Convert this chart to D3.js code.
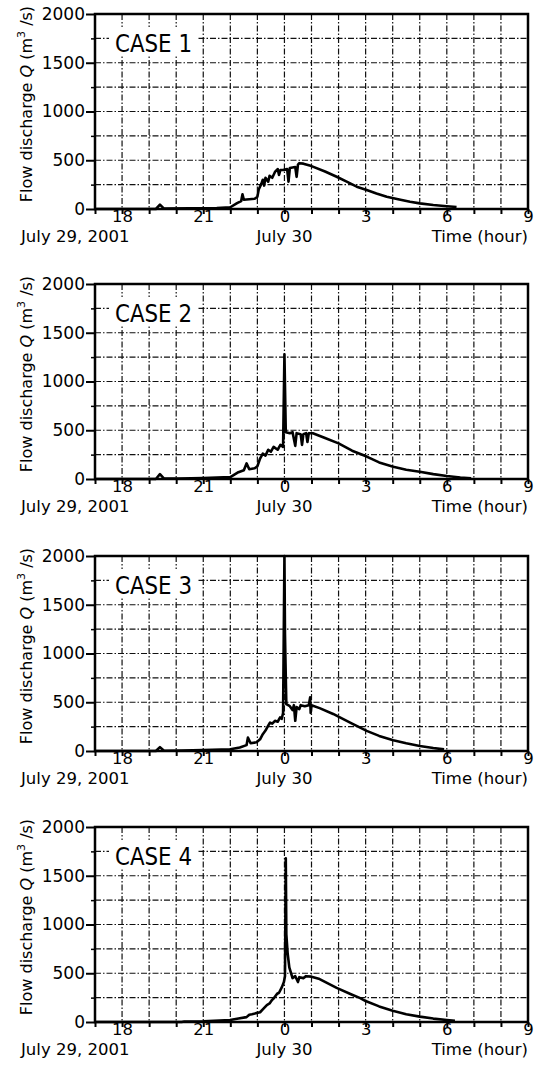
<!DOCTYPE html>
<html><head><meta charset="utf-8">
<script src="https://cdn.jsdelivr.net/npm/d3@7"></script>
<style>body{margin:0;background:#fff} svg{display:block;font-family:"DejaVu Sans",sans-serif}</style>
</head><body>
<script>
// hours since July 29 00:00 ; discharge Q (m3/s)
const case1 = [[17,0],[19.25,0],[19.4,45],[19.55,4],[20.5,6],[21.5,10],[22.0,18],[22.25,60],[22.4,80],[22.45,150],[22.5,95],[22.9,105],[23.0,125],[23.05,200],[23.15,260],[23.2,300],[23.25,240],[23.3,320],[23.4,280],[23.45,340],[23.55,320],[23.65,380],[23.75,410],[23.8,350],[23.85,400],[23.95,400],[24.1,410],[24.15,280],[24.2,420],[24.4,430],[24.45,330],[24.5,455],[24.55,470],[24.7,465],[25.0,440],[25.5,385],[25.93,331],[26.3,280],[26.67,229],[27.04,195],[27.4,160],[27.78,126],[28.2,100],[28.64,75],[29.0,58],[29.5,41],[30.0,28],[30.36,20]];
const case2 = [[17,0],[19.25,0],[19.4,50],[19.55,4],[20.1,5],[21.0,10],[22.0,20],[22.3,70],[22.5,90],[22.6,160],[22.7,100],[22.9,110],[23.0,130],[23.1,210],[23.2,260],[23.3,240],[23.4,300],[23.5,280],[23.6,330],[23.75,300],[23.85,350],[23.95,330],[24.0,1280],[24.05,480],[24.2,470],[24.3,480],[24.4,340],[24.45,470],[24.6,460],[24.65,350],[24.7,460],[24.8,470],[24.85,380],[24.9,470],[25.05,470],[25.5,420],[26.0,365],[26.5,290],[27.04,230],[27.5,170],[28.02,126],[28.5,95],[29.0,75],[29.5,50],[30.0,30],[30.5,15],[30.9,8]];
const case3 = [[17,0],[19.25,0],[19.4,40],[19.55,3],[20.2,5],[21,10],[22,18],[22.35,35],[22.6,60],[22.65,137],[22.75,80],[22.97,90],[23.1,120],[23.2,172],[23.3,210],[23.4,260],[23.47,292],[23.55,280],[23.65,310],[23.75,300],[23.84,344],[23.9,330],[23.95,390],[24.0,2000],[24.02,1200],[24.04,900],[24.07,480],[24.2,460],[24.3,420],[24.35,470],[24.4,310],[24.45,450],[24.55,430],[24.6,470],[24.75,460],[24.9,470],[24.95,550],[24.97,390],[25.0,470],[25.3,440],[25.8,380],[26.05,344],[26.5,280],[27.04,206],[27.5,155],[28.02,110],[28.5,80],[29.0,52],[29.5,30],[29.9,17]];
const case4 = [[17,0],[20.2,0],[20.3,5],[21,8],[21.99,20],[22.3,35],[22.6,50],[22.7,75],[22.8,80],[23.1,100],[23.2,130],[23.35,174],[23.45,190],[23.54,226],[23.6,240],[23.73,290],[23.8,300],[23.91,360],[23.98,410],[24.02,470],[24.05,1680],[24.07,900],[24.12,700],[24.18,560],[24.3,450],[24.4,470],[24.5,410],[24.55,460],[24.7,450],[24.8,470],[25.0,465],[25.3,440],[25.93,350],[26.5,280],[26.8,245],[27.0,215],[27.5,160],[28.0,115],[28.5,80],[29.0,55],[29.5,35],[30.0,20],[30.3,12]];

const caseNames = ["CASE 1","CASE 2","CASE 3","CASE 4"];
const hourTicks = d3.range(17,34);
const xTickValues = [18,21,24,27,30,33];
const xTickLabels = ["18","21","0","3","6","9"];
const yTickValues = [0,500,1000,1500,2000];
const yMinorTicks = [250,750,1250,1750];
const yGrid = [250,500,750,1000,1250,1500,1750];
const xGrid = d3.range(18,33);

const W=539,H=1068;
const svg = d3.select("body").append("svg").attr("width",W).attr("height",H);
const panelTops=[14,284,556,827];
const ph=195;
const x = d3.scaleLinear().domain([17,33]).range([95,528]);
const allCases=[case1,case2,case3,case4];

allCases.forEach((data,i)=>{
  const top=panelTops[i], bot=top+ph;
  const y = d3.scaleLinear().domain([0,2000]).range([bot,top]);
  const g = svg.append("g");
  // grid
  g.selectAll(".vg").data(xGrid).enter().append("line")
    .attr("x1",d=>x(d)).attr("x2",d=>x(d)).attr("y1",top).attr("y2",bot)
    .attr("stroke","#111").attr("stroke-width",1.2).attr("stroke-dasharray","6,2,1.5,2");
  g.selectAll(".hg").data(yGrid).enter().append("line")
    .attr("x1",x(17)).attr("x2",x(33)).attr("y1",d=>y(d)).attr("y2",d=>y(d))
    .attr("stroke","#111").attr("stroke-width",1.2).attr("stroke-dasharray","6,2,1.5,2");
  // case label
  g.append("rect").attr("x",x(17)+14).attr("y",top+13).attr("width",88).attr("height",29).attr("fill","#fff");
  g.append("text").attr("x",x(17)+20).attr("y",top+38).attr("font-size",24)
    .attr("textLength",77).attr("lengthAdjust","spacingAndGlyphs").text(caseNames[i]);
  // line
  const line = d3.line().x(d=>x(d[0])).y(d=>y(d[1]));
  g.append("path").datum(data).attr("d",line).attr("fill","none").attr("stroke","#000")
    .attr("stroke-width",2.6).attr("stroke-linejoin","round");
  // frame
  g.append("rect").attr("x",x(17)).attr("y",top).attr("width",x(33)-x(17)).attr("height",ph)
    .attr("fill","none").attr("stroke","#000").attr("stroke-width",2.5);
  // x axis
  const xa = d3.axisBottom(x).tickValues(hourTicks).tickSize(5).tickPadding(-4)
    .tickFormat(d=>{const k=xTickValues.indexOf(d);return k>=0?xTickLabels[k]:"";});
  const gx = g.append("g").attr("transform",`translate(0,${bot})`).call(xa);
  gx.select(".domain").remove();
  gx.selectAll("line").attr("stroke","#000").attr("stroke-width",2);
  gx.selectAll("text").attr("font-size",16.5).attr("font-family","DejaVu Sans").attr("fill","#000");
  // y axis
  const ya = d3.axisLeft(y).tickValues(yTickValues).tickSize(9).tickPadding(1).tickFormat(d3.format("d"));
  const gy = g.append("g").attr("transform",`translate(${x(17)},0)`).call(ya);
  gy.select(".domain").remove();
  gy.selectAll("line").attr("stroke","#000").attr("stroke-width",2);
  gy.selectAll("text").attr("font-size",17).attr("font-family","DejaVu Sans").attr("fill","#000");
  const ym = d3.axisLeft(y).tickValues(yMinorTicks).tickSize(4).tickFormat("");
  const gym = g.append("g").attr("transform",`translate(${x(17)},0)`).call(ym);
  gym.select(".domain").remove();
  gym.selectAll("line").attr("stroke","#000").attr("stroke-width",1.5);
  // bottom labels
  g.append("text").attr("x",21).attr("y",bot+33).attr("font-size",16.5).text("July 29, 2001");
  g.append("text").attr("x",x(24)).attr("y",bot+33).attr("font-size",16.5).attr("text-anchor","middle").text("July 30");
  g.append("text").attr("x",x(33)).attr("y",bot+33).attr("font-size",16.5).attr("text-anchor","end").text("Time (hour)");
  // y label
  const yl = g.append("text").attr("transform",`translate(32,${top+90}) rotate(-90)`)
    .attr("font-size",16).attr("text-anchor","middle");
  yl.append("tspan").text("Flow discharge ");
  yl.append("tspan").attr("font-style","italic").text("Q");
  yl.append("tspan").text(" (m");
  yl.append("tspan").attr("font-size",11).attr("dy",-7).text("3");
  yl.append("tspan").attr("dy",7).text(" /s)");
});
</script>
</body></html>
